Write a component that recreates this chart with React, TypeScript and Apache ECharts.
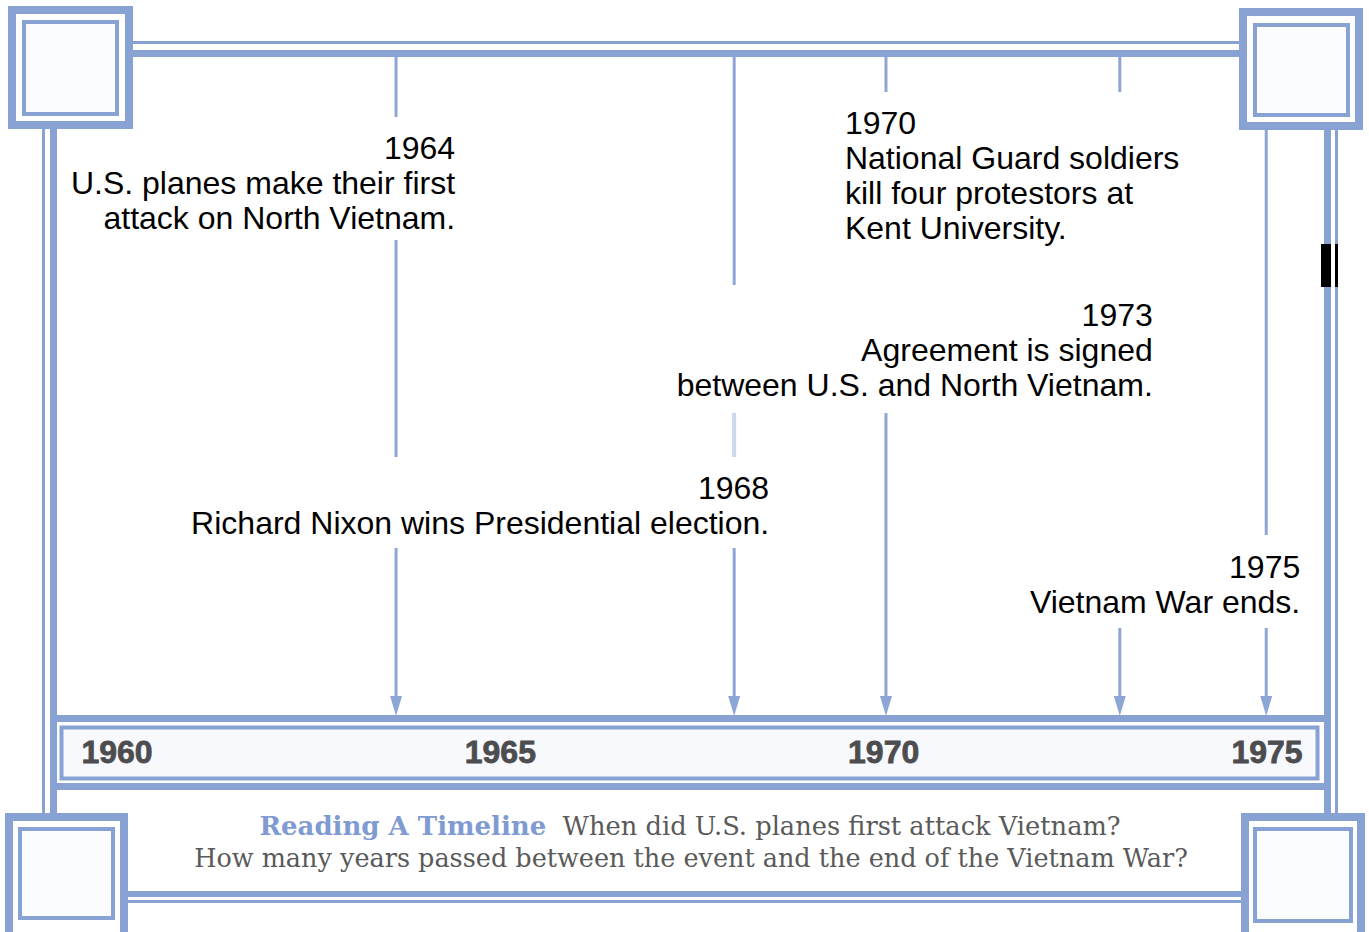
import React, { useEffect, useRef } from "react";
import * as echarts from "echarts";

// ---- data ----
const tickYears = [1960, 1965, 1970, 1975];
const eventYears = ["1964", "1968", "1970", "1973", "1975"];
const eventText = [
  ["U.S. planes make their first", "attack on North Vietnam."],
  ["Richard Nixon wins Presidential election."],
  ["National Guard soldiers", "kill four protestors at", "Kent University."],
  ["Agreement is signed", "between U.S. and North Vietnam."],
  ["Vietnam War ends."],
];
// arrow positions on the year scale
const arrowPos = [1963.64, 1968.05, 1970.03, 1973.08, 1974.99];

// ---- layout (pixels) ----
const labelLayout = [
  { dx: 59, y: 148, align: "right" },
  { dx: 35, y: 488, align: "right" },
  { dx: -41, y: 123, align: "left" },
  { dx: 33, y: 315, align: "right" },
  { dx: 34, y: 567, align: "right" },
];
const segments = [
  [[57, 117], [240, 457], [548, 716]],
  [[57, 285], [548, 716]],
  [[57, 92], [413, 716]],
  [[57, 92], [628, 716]],
  [[130, 535], [628, 716]],
];
const faintSegments = [[], [[413, 457]], [], [], []];

const BLUE = "#88a2d4";
const LINE = "#8ea6d6";

function corner(x0: number, y0: number, x1: number, y1: number, ix0: number, iy0: number, ix1: number, iy1: number) {
  return [
    { type: "rect", shape: { x: x0, y: y0, width: x1 - x0, height: y1 - y0 }, style: { fill: BLUE }, z: 10 },
    { type: "rect", shape: { x: x0 + 8, y: y0 + 8, width: x1 - x0 - 16, height: y1 - y0 - 16 }, style: { fill: "#fff" }, z: 10 },
    { type: "rect", shape: { x: ix0, y: iy0, width: ix1 - ix0, height: iy1 - iy0 }, style: { fill: BLUE }, z: 10 },
    { type: "rect", shape: { x: ix0 + 4, y: iy0 + 4, width: ix1 - ix0 - 8, height: iy1 - iy0 - 8 }, style: { fill: "#fbfcfe" }, z: 10 },
  ];
}

function bar(x: number, y: number, w: number, h: number, fill = BLUE) {
  return { type: "rect", shape: { x, y, width: w, height: h }, style: { fill }, z: 5 };
}

export default function App() {
  const ref = useRef<HTMLDivElement>(null);
  useEffect(() => {
    document.body.style.margin = "0";
    const chart = echarts.init(ref.current!, null, { renderer: "svg" });
    const frame: any[] = [
      // rails
      bar(133, 41, 1106, 3),
      bar(133, 50, 1106, 7),
      bar(42, 128, 3, 690),
      bar(50, 128, 7, 690),
      bar(1324, 130, 7, 688),
      bar(1335, 130, 3, 688),
      bar(128, 891, 1113, 6),
      bar(128, 900, 1113, 3),
      // axis band
      bar(50, 715, 1281, 7),
      bar(50, 783, 1281, 7),
      {
        type: "rect",
        shape: { x: 61.5, y: 727.5, width: 1256, height: 51 },
        style: { fill: "#f7f9fd", stroke: BLUE, lineWidth: 4 },
        z: 5,
      },
      // scan artefact on right rail
      bar(1321, 244, 10, 43, "#000"),
      bar(1335, 244, 3, 43, "#000"),
      ...corner(8, 6, 133, 129, 22, 20, 119, 116),
      ...corner(1239, 8, 1363, 130, 1253, 23, 1350, 117),
      ...corner(5, 813, 128, 940, 18, 827, 115, 920),
      ...corner(1241, 813, 1365, 940, 1253, 827, 1353, 923),
      {
        type: "text",
        z: 20,
        style: {
          x: 690,
          y: 826,
          align: "center",
          verticalAlign: "middle",
          text: "{b|Reading A Timeline}{n|  When did U.S. planes first attack Vietnam?}",
          rich: {
            b: { font: 'bold 26px "DejaVu Serif"', fill: "#7f9bd2" },
            n: { font: '25.7px "DejaVu Serif"', fill: "#5a5a5a" },
          },
        },
      },
      {
        type: "text",
        z: 20,
        style: {
          x: 691,
          y: 858,
          align: "center",
          verticalAlign: "middle",
          text: "How many years passed between the event and the end of the Vietnam War?",
          font: '25.5px "DejaVu Serif"',
          fill: "#5a5a5a",
        },
      },
    ];

    const option: any = {
      animation: false,
      grid: { left: 117, right: 102, top: 0, bottom: 0 },
      xAxis: { type: "value", min: 1960, max: 1975, show: false },
      yAxis: { type: "value", min: 0, max: 932, inverse: true, show: false },
      graphic: frame,
      series: [
        {
          type: "custom",
          coordinateSystem: "cartesian2d",
          clip: false,
          z: 3,
          data: arrowPos.map((p, i) => [p, i]),
          renderItem: (params: any, api: any) => {
            const i = params.dataIndex;
            const x = api.coord([api.value(0), 0])[0];
            const py = (v: number) => api.coord([1960, v])[1];
            const children: any[] = [];
            const segs = segments[i];
            segs.forEach((s, k) => {
              const last = k === segs.length - 1;
              children.push({
                type: "line",
                shape: { x1: x, y1: py(s[0]), x2: x, y2: last ? py(s[1] - 16) : py(s[1]) },
                style: { stroke: LINE, lineWidth: 3 },
              });
              if (last) {
                children.push({
                  type: "polygon",
                  shape: { points: [[x - 6, py(s[1] - 20)], [x + 6, py(s[1] - 20)], [x, py(s[1])]] },
                  style: { fill: LINE },
                });
              }
            });
            faintSegments[i].forEach((s) => {
              children.push({
                type: "line",
                shape: { x1: x, y1: py(s[0]), x2: x, y2: py(s[1]) },
                style: { stroke: "#cdd8ef", lineWidth: 4 },
              });
            });
            const L = labelLayout[i];
            children.push({
              type: "text",
              style: {
                x: x + L.dx,
                y: py(L.y - 17.5),
                text: [eventYears[i], ...eventText[i]].join("\n"),
                font: '32px "Liberation Sans"',
                lineHeight: 35,
                fill: "#000",
                align: L.align,
                verticalAlign: "top",
              },
            });
            return { type: "group", children };
          },
        },
        {
          type: "custom",
          coordinateSystem: "cartesian2d",
          clip: false,
          z: 30,
          data: tickYears.map((y) => [y, 752]),
          renderItem: (params: any, api: any) => {
            const c = api.coord([api.value(0), api.value(1)]);
            return {
              type: "text",
              z2: 30,
              style: {
                x: c[0],
                y: c[1],
                text: String(tickYears[params.dataIndex]),
                font: 'bold 32px "Liberation Sans"',
                fill: "#4d4d50",
                stroke: "#4d4d50",
                lineWidth: 0.8,
                align: "center",
                verticalAlign: "middle",
              },
            };
          },
        },
      ],
    };
    chart.setOption(option);
    return () => chart.dispose();
  }, []);
  return <div ref={ref} style={{ width: 1369, height: 932 }} />;
}
